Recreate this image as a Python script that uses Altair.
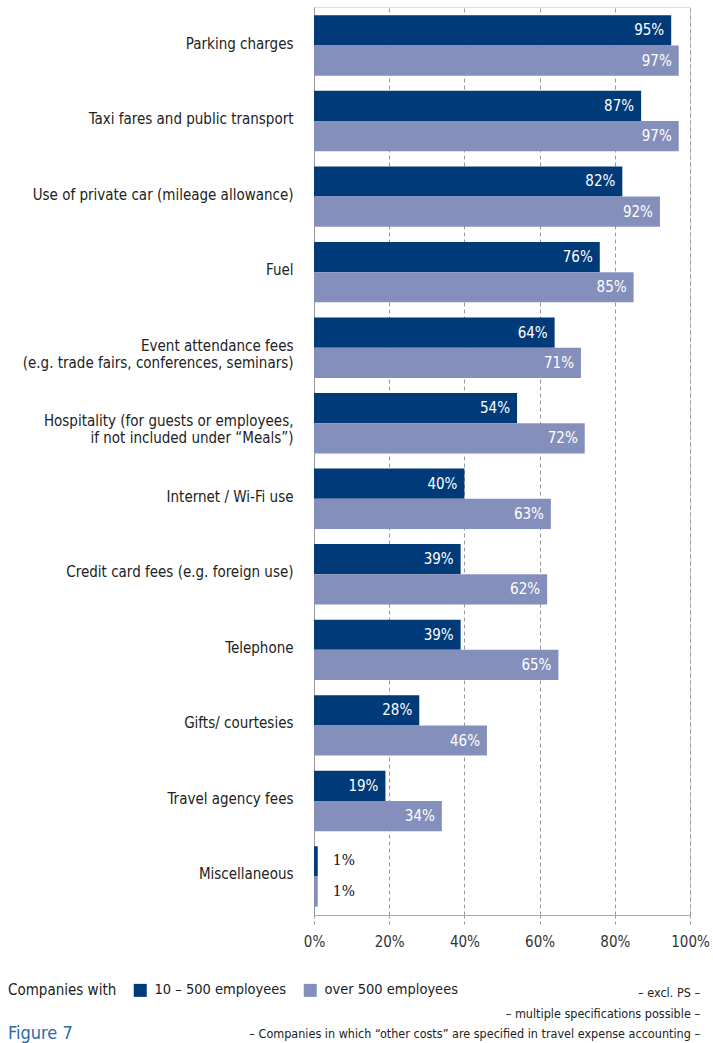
import altair as alt
import pandas as pd

categories = [
    "Parking charges",
    "Taxi fares and public transport",
    "Use of private car (mileage allowance)",
    "Fuel",
    "Event attendance fees|(e.g. trade fairs, conferences, seminars)",
    "Hospitality (for guests or employees,|if not included under “Meals”)",
    "Internet / Wi-Fi use",
    "Credit card fees (e.g. foreign use)",
    "Telephone",
    "Gifts/ courtesies",
    "Travel agency fees",
    "Miscellaneous",
]
small_companies = [95, 87, 82, 76, 64, 54, 40, 39, 39, 28, 19, 1]
large_companies = [97, 97, 92, 85, 71, 72, 63, 62, 65, 46, 34, 1]
groups = ["10 – 500 employees", "over 500 employees"]
colors = ["#003a78", "#8490bb"]
notes = [
    "– excl. PS –",
    "– multiple specifications possible –",
    "– Companies in which “other costs” are specified in travel expense accounting –",
]

rows = []
for c, s, l in zip(categories, small_companies, large_companies):
    rows.append({"cat": c, "group": groups[0], "value": s, "label": f"{s}%"})
    rows.append({"cat": c, "group": groups[1], "value": l, "label": f"{l}%"})
df = pd.DataFrame(rows)

FONT = "Liberation Sans Narrow, DejaVu Sans Condensed, sans-serif"

y_enc = alt.Y("cat:N", sort=categories,
              scale=alt.Scale(paddingInner=0.2, paddingOuter=0.11),
              axis=alt.Axis(title=None, ticks=False, domain=True, domainColor="#999999",
                            labelFont=FONT, labelFontSize=15, labelColor="#222222",
                            labelPadding=21, labelLimit=400, labelOffset=-2,
                            labelExpr="split(datum.label, '|')", labelLineHeight=17))
yoff = alt.YOffset("group:N", sort=groups, scale=alt.Scale(paddingInner=0, paddingOuter=0))
x_enc = alt.X("value:Q", scale=alt.Scale(domain=[0, 100], nice=False),
              axis=alt.Axis(title=None, values=[0, 20, 40, 60, 80, 100],
                            labelExpr="datum.value + '%'", labelFlush=False,
                            grid=True, gridDash=[4, 3], gridColor="#999999",
                            domainColor="#aaaaaa", tickColor="#999999", tickDash=[3, 3],
                            tickSize=10, labelPadding=9, labelFont=FONT, labelFontSize=15,
                            labelColor="#333333"))

base = alt.Chart(df).encode(y=y_enc, yOffset=yoff, x=x_enc)

bars = base.mark_bar().encode(
    color=alt.Color("group:N", sort=groups,
                    scale=alt.Scale(domain=groups, range=colors),
                    legend=alt.Legend(title="Companies with", titleOrient="left",
                                      orient="none", legendX=-306, legendY=976,
                                      direction="horizontal", symbolType="square",
                                      symbolSize=169, symbolStrokeWidth=0,
                                      titleFont=FONT, titleFontSize=15, titleFontWeight="normal",
                                      titleColor="#222222", titlePadding=16,
                                      labelFont=FONT, labelFontSize=14.5, labelColor="#222222",
                                      labelOffset=7, columnPadding=16, labelLimit=300)),
)

inside = base.transform_filter("datum.value >= 5").mark_text(
    align="right", baseline="middle", dx=-7, font=FONT, fontSize=15, color="white"
).encode(text="label:N")

outside = base.transform_filter("datum.value < 5").mark_text(
    align="left", baseline="middle", dx=15, font="DejaVu Serif", fontSize=14, color="#111111"
).encode(text="label:N")

note_layers = []
for t, yy in zip(notes, [986, 1007, 1027]):
    note_layers.append(
        alt.Chart(pd.DataFrame({"t": [t]})).mark_text(
            align="right", baseline="middle", font=FONT, fontSize=12.5, color="#222222"
        ).encode(text="t:N", x=alt.value(386), y=alt.value(yy))
    )

fig = alt.Chart(pd.DataFrame({"t": ["Figure 7"]})).mark_text(
    align="left", baseline="middle", font=FONT, fontSize=18, color="#2b69a8"
).encode(text="t:N", x=alt.value(-306), y=alt.value(1027))

chart = alt.layer(bars, inside, outside, *note_layers, fig).properties(
    width=376, height=908,
    autosize=alt.AutoSizeParams(type="none"),
    padding={"left": 314, "top": 7, "right": 23, "bottom": 128},
).configure_view(stroke=None).configure(background="white")

chart.save("out.html", embed_options={"renderer": "svg", "actions": False})
